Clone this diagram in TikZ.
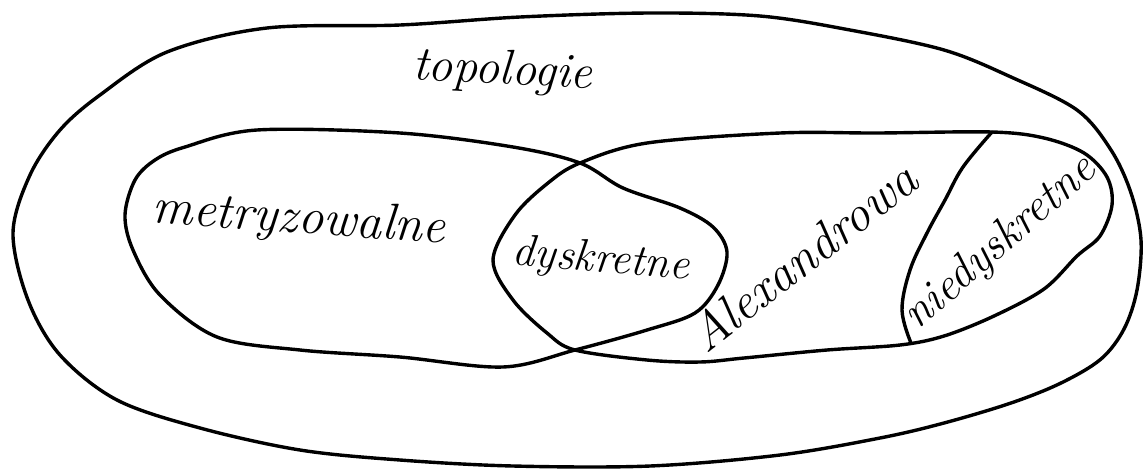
\documentclass[tikz,border=0pt]{standalone}
\usepackage{tikz}

\begin{document}
\begin{tikzpicture}[x=0.5pt,y=-0.5pt,
  outline/.style={line width=1.7pt,line join=round,line cap=round},
  hand/.style={anchor=base,inner sep=0pt}]
  \useasboundingbox (0,0) rectangle (1144,472);
  % topologie (outer set)
  \draw[outline] plot[smooth cycle,tension=0.55] coordinates {
    (13,233) (30,175) (60,130) (100,95) (167,52) (267,28) (400,25) (520,17)
    (650,13) (760,16) (850,30) (944,50) (1011,77) (1077,110) (1111,150)
    (1131,193) (1141,240) (1137,290) (1124,329) (1101,359) (1061,383)
    (1011,403) (944,423) (880,438) (780,455) (650,466) (513,466) (400,460)
    (300,450) (200,428) (117,400) (60,355) (28,300)};
  % metryzowalne
  \draw[outline] plot[smooth cycle,tension=0.55] coordinates {
    (125,215) (135,180) (155,160) (185,147) (257,130) (400,133) (513,147)
    (580,163) (623,188) (680,208) (713,227) (727,252) (718,285) (695,313)
    (647,330) (575,350) (503,367) (400,357) (300,350) (217,337) (160,295)
    (133,250)};
  % Alexandrowa
  \draw[outline] plot[smooth cycle,tension=0.55] coordinates {
    (493,260) (515,215) (548,183) (580,163) (647,143) (780,133) (877,133)
    (992,132) (1044,138) (1084,153) (1107,177) (1112,205) (1100,236)
    (1077,256) (1044,289) (994,316) (944,336) (900,345) (827,350)
    (744,358) (700,362) (647,360) (575,350) (547,333) (513,300)};
  % niedyskretne
  \draw[outline] plot[smooth,tension=0.6] coordinates {
    (992,132) (963,167) (945,200) (927,233) (910,270) (902,310) (911,343)};
  % labels
  \foreach \nm/\x/\y/\a/\s/\t in {topo/502/84/-3/24.5/topologie,
      metr/298/233/-4/25.5/metryzowalne, dysk/600/272/-5/22.4/dyskretne,
      alex/814/270/38/25.3/Alexandrowa, nied/1008/252/41/23/niedyskretne}{
    \node[hand,rotate=\a,font=\fontsize{\s}{\s}\selectfont\itshape]
      (\nm) at (\x,\y) {\t};}
\end{tikzpicture}
\end{document}
